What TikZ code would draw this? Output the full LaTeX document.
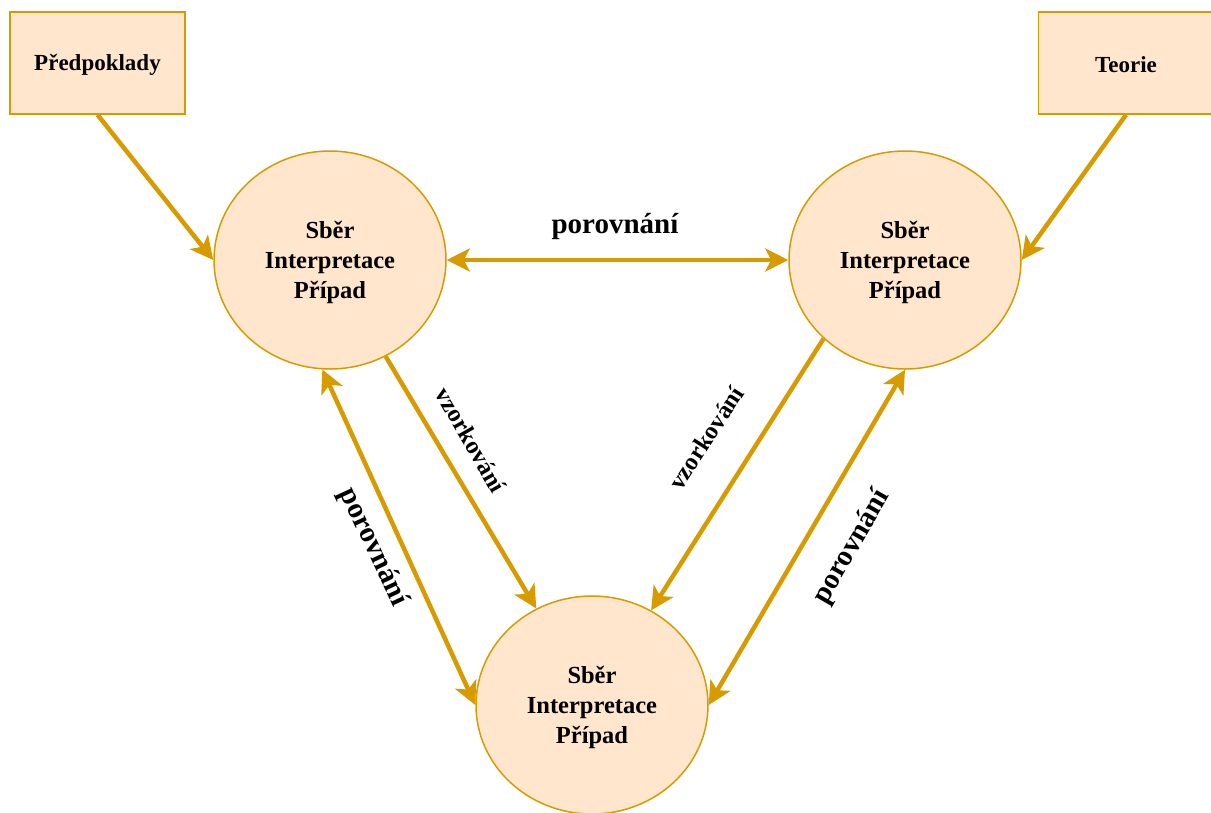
\documentclass[tikz,border=0pt]{standalone}
\usepackage{fontspec}
\setmainfont{Liberation Serif}
\usetikzlibrary{shapes.geometric,arrows.meta}
\definecolor{strokec}{HTML}{D79B00}
\definecolor{fillc}{HTML}{FFE6CC}
\newcommand{\topstrut}[1]{\rule{0pt}{#1}}
\begin{document}
\begin{tikzpicture}[x=1pt,y=-1pt,
  >={Stealth[length=23pt,width=23pt,inset=6pt]},
  proc/.style={ellipse, draw=strokec, fill=fillc, line width=1.5pt,
    minimum width=232pt, minimum height=218pt, inner sep=0pt, align=center,
    font=\bfseries\fontsize{24.5}{30}\selectfont},
  src/.style={rectangle, draw=strokec, fill=fillc, line width=1.5pt,
    minimum width=175pt, minimum height=102pt, inner sep=0pt,
    font=\bfseries\fontsize{23}{26}\selectfont},
  conn/.style={draw=strokec, line width=4.5pt},
  cmpl/.style={font=\bfseries\fontsize{29}{32}\selectfont, inner sep=0pt},
  smpl/.style={font=\bfseries\fontsize{24.5}{28}\selectfont, inner sep=0pt}]
\useasboundingbox (0,0) rectangle (1211,812);
\node[src] (pred) at (97.5,63) {\topstrut{20pt}Předpoklady};
\node[src] (teor) at (1126,63) {\topstrut{20pt}Teorie};
\node[proc] (A) at (330,260) {\topstrut{22pt}Sběr\\Interpretace\\Případ};
\node[proc] (B) at (905,260) {\topstrut{22pt}Sběr\\Interpretace\\Případ};
\node[proc] (C) at (592,705) {\topstrut{22pt}Sběr\\Interpretace\\Případ};
\draw[conn,->] (pred.south) -- (A.west);
\draw[conn,->] (teor.south) -- (B.east);
\draw[conn,<->] (A.east) -- (B.west);
\draw[conn,->] (A.-60) -- (C.120);
\draw[conn,->] (B.-136) -- (C.58);
\draw[conn,<->] (A.-94) -- (C.west);
\draw[conn,<->] (C.east) -- (B.-90);
\node[cmpl] (l1) at (615,227) {porovnání};
\node[smpl, rotate=-60] (l2) at (471,440) {vzorkování};
\node[smpl, rotate=57] (l3) at (706,438) {vzorkování};
\node[cmpl, rotate=-65] (l4) at (373,547) {porovnání};
\node[cmpl, rotate=60] (l5) at (852,547) {porovnání};
\end{tikzpicture}
\end{document}
